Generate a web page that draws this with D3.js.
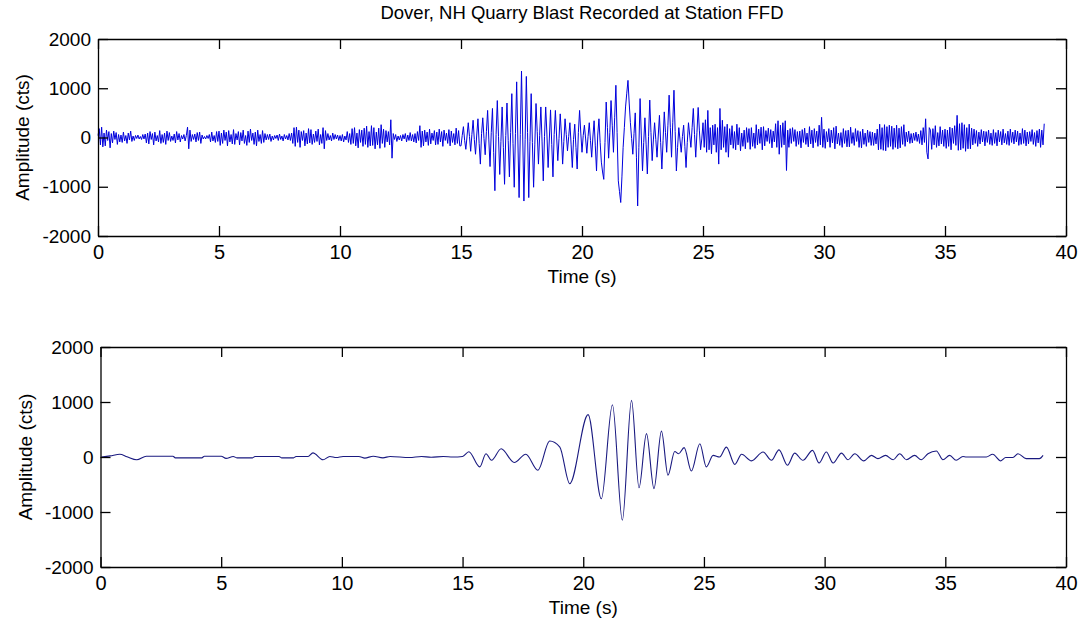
<!DOCTYPE html>
<html>
<head>
<meta charset="utf-8">
<script src="https://cdn.jsdelivr.net/npm/d3@7"></script>
<style>
  body { margin: 0; background: #fff; }
  svg { display: block; font-family: "Liberation Sans", Arial, sans-serif; }
  .tick text { fill: #000; }
</style>
</head>
<body>
<div id="chart"></div>
<script>
// raw trace, one value every 0.05 s starting at t = 0 (one row per second)
var rawDt = 0.05;
var rawAmps = [
  40, 180, -150, 210, -190, 90, -170, 150, -60, 120, -210, 80, -110, 130, -40, 100, -140, 60, -90, 50,
  -100, 110, -70, 40, -120, 90, -50, 130, -80, 30, -60, 40, -20, 50, -30, 20, -40, 60, -30, 70,
  -110, 90, -130, 120, -40, 80, -150, 110, -70, 40, -90, 140, -120, 60, -100, 90, -140, 130, -60, 100,
  -80, 30, -60, 70, -110, 120, -50, 80, -90, 40, -30, 60, -70, 40, 210, -230, 150, -80, 60, -40,
  70, -90, 100, -60, 110, -120, 50, -30, 20, -30, 40, -20, 60, -90, 110, -70, 40, -100, 120, -80,
  130, -160, 90, -120, 150, -60, 110, -170, 140, -90, 60, -130, 160, -140, 80, -50, 120, -150, 100, -70,
  150, -120, 40, -160, 130, -100, 170, -60, 90, -140, 110, -170, 150, -80, 60, -120, 140, -100, 80, -50,
  60, -40, 70, -80, 30, -50, 40, -20, 50, -60, 70, -40, 30, -70, 60, -30, 40, -50, 80, -60,
  90, -120, 200, -180, 210, -100, 150, -200, 120, -60, 140, -170, 90, -130, 180, -110, 160, -140, 70, -100,
  130, -80, 170, -150, 60, -120, 200, -230, 140, -60, 80, -50, 40, -70, 90, -40, 60, -30, 50, -60,
  40, -70, 60, -90, 30, -50, 120, -100, 80, -140, 180, -120, 200, -170, 90, -210, 160, -100, 150, -180,
  190, -140, 230, -200, 120, -170, 240, -160, 200, -230, 110, -150, 190, -220, 260, -120, 170, -200, 140, -90,
  120, -150, 360, -420, 80, -40, 60, -80, 30, -50, 40, -70, 60, -30, 80, -90, 50, -60, 100, -70,
  60, -90, 80, -110, 120, -60, 240, -200, 130, -170, 150, -90, 110, -160, 170, -130, 90, -60, 140, -150,
  110, -140, 170, -90, 120, -180, 150, -60, 90, -120, 160, -170, 130, -100, 80, -150, 190, -120, 140, -170,
  -170, 40, 220, -60, -240, 30, 300, 20, -280, 60, 350, -40, -340, 50, 380, -120, -540, 80, 400, -20,
  -350, 120, 550, -50, -590, 100, 590, -300, -1080, 60, 750, 20, -750, -80, 620, -200, -950, 40, 700, -60,
  -800, 100, 890, -120, -1010, 80, 1130, -50, -1220, 60, 1350, 30, -1290, -40, 1240, 100, -1220, -80, 890, -100,
  -1010, -150, 690, 120, -540, 40, 620, -90, -880, 20, 620, 70, -610, -30, 560, -140, -800, 60, 550, 30,
  -470, -20, 480, 50, -540, -80, 380, 60, -270, 20, 300, -150, -610, -40, 270, -200, -640, 100, 550, 90,
  -300, 40, 250, -30, -320, 20, 300, -60, -400, 10, 340, -170, -680, 50, 380, -100, -500, -700, -850, -100,
  720, 200, -420, 100, 750, 250, -300, 400, 1060, 100, -880, -1100, -1320, -800, -200, 200, 620, 900, 1160, 700,
  300, -20, -340, 80, 500, -400, -1390, -200, 790, 50, -680, -100, 400, -150, -740, 20, 760, 100, -470, -50,
  300, -40, -400, 30, 450, -100, -640, -60, 520, 100, -300, 250, 860, 200, -400, 300, 960, 120, -680, -200,
  200, -50, -300, 20, 250, -180, -610, -100, 300, 50, -200, 200, 590, 60, -400, 100, 610, 150, -250, -30,
  300, -200, 360, -300, 550, -250, 200, -330, 250, -150, 270, -300, 200, -540, 590, -250, 350, -200, 220, -300,
  270, -400, 180, -150, 240, -220, 120, -250, 270, -150, 200, -270, 90, -180, 150, -230, 200, -100, 180, -240,
  200, -180, 90, -220, 260, -150, 170, -120, 210, -250, 220, -170, 140, -80, 190, -120, 160, -210, 130, -90,
  280, -200, 340, -340, 250, -200, 300, -150, 340, -670, 150, -200, 180, -120, 200, -80, 160, -180, 120, -140,
  130, -210, 160, -100, 190, -140, 90, -190, 220, -130, 150, -210, 180, -100, 130, -180, 250, -150, 410, -200,
  170, -220, 120, -90, 180, -200, 150, -110, 200, -230, 230, -130, 90, -160, 100, -200, 180, -120, 140, -190,
  150, -190, 210, -120, 100, -160, 180, -80, 140, -200, 120, -210, 170, -140, 90, -180, 150, -100, 120, -160,
  110, -160, 90, -130, 170, -250, 270, -240, 200, -260, 260, -270, 220, -200, 250, -180, 230, -240, 190, -200,
  250, -230, 190, -210, 220, -140, 260, -180, 110, -90, 130, -120, 80, -110, 90, -60, 110, -80, 70, -120,
  140, -150, 200, -100, 380, -300, -435, 200, 150, -240, 180, -150, 240, -200, 100, -170, 220, -130, 150, -180,
  170, -220, 150, -180, 210, -250, 190, -120, 240, -160, 450, -260, 280, -250, 300, -220, 260, -280, 200, -230,
  270, -230, 190, -150, 170, -120, 140, -180, 110, -130, 160, -90, 130, -170, 120, -100, 150, -140, 90, -160,
  160, -120, 100, -170, 150, -90, 120, -150, 170, -110, 80, -140, 130, -160, 170, -100, 110, -130, 150, -90,
  130, -160, 90, -140, 180, -120, 150, -170, 110, -130, 120, -80, 160, -140, 100, -180, 140, -110, 170, -200,
  150, -150, 280
];

// filtered trace, turning points
var filtTimes = [
  0.04, 0.4, 0.8, 1.1, 1.5, 1.9, 3.0, 3.1, 4.2, 4.3,
  5.0, 5.2, 5.5, 5.65, 6.3, 6.4, 7.4, 7.5, 8.0, 8.1,
  8.6, 8.8, 9.22, 9.5, 9.77, 10.05, 10.7, 10.95, 11.3, 11.7,
  12.0, 12.8, 13.3, 13.7, 14.2, 14.6, 15.0, 15.26, 15.71, 15.97,
  16.2, 16.6, 17.14, 17.62, 18.12, 18.61, 19.03, 19.44, 20.2, 20.75,
  21.21, 21.62, 22.0, 22.31, 22.62, 22.93, 23.24, 23.51, 23.79, 23.95,
  24.18, 24.48, 24.83, 25.1, 25.38, 25.65, 25.93, 26.28, 26.56, 26.97,
  27.45, 27.8, 28.11, 28.46, 28.76, 29.1, 29.5, 29.77, 30.07, 30.35,
  30.7, 30.97, 31.25, 31.62, 31.94, 32.21, 32.52, 32.84, 33.11, 33.39,
  33.73, 34.0, 34.28, 34.63, 34.9, 35.18, 35.45, 35.73, 35.87, 36.7,
  36.96, 37.3, 37.5, 37.8, 38.01, 38.35, 38.9, 39.05
];
var filtAmps = [
  0, 20, 50, 5, -50, 15, 15, -15, -15, 15,
  15, -25, 10, -15, -15, 10, 10, -15, -15, 10,
  10, 75, -50, 10, -10, 10, 10, -20, 15, -15,
  10, -10, 10, -5, 10, 0, 10, 95, -180, 60,
  -60, 150, -100, 50, -240, 290, 180, -485, 770, -760,
  950, -1150, 1030, -560, 425, -575, 470, -330, 100, 60,
  170, -255, 240, -180, 30, 0, 180, -135, 50, -70,
  90, -60, 130, -150, 70, -60, 120, -110, 90, -110,
  70, -50, 60, -70, 30, -30, 30, -50, 60, -50,
  30, -50, 60, 110, -50, 30, -60, 10, 0, 0,
  50, -70, -10, -10, 60, -30, -30, 30
];

var titleText = "Dover, NH Quarry Blast Recorded at Station FFD";
var xTicks = [0, 5, 10, 15, 20, 25, 30, 35, 40];
var yTicks = [-2000, -1000, 0, 1000, 2000];

var W = 1083, H = 626;

var svg = d3.select("#chart").append("svg")
    .attr("width", W)
    .attr("height", H);

svg.append("rect").attr("width", W).attr("height", H).attr("fill", "#fff");

svg.append("text")
    .attr("x", 582)
    .attr("y", 19)
    .attr("text-anchor", "middle")
    .style("font-size", "18.5px")
    .text(titleText);

function drawPanel(box, pts, color, curve, lw) {
    var x = d3.scaleLinear().domain([0, 40]).range([box.left, box.right]);
    var y = d3.scaleLinear().domain([-2000, 2000]).range([box.bottom, box.top]);

    var g = svg.append("g");

    // the trace
    var line = d3.line()
        .x(function (d) { return x(d[0]); })
        .y(function (d) { return y(d[1]); })
        .curve(curve);

    g.append("path")
        .datum(pts)
        .attr("fill", "none")
        .attr("stroke", color)
        .attr("stroke-width", lw)
        .attr("stroke-linejoin", "round")
        .attr("d", line);

    // box with inward ticks on every side
    var fmt = function (d) { return String(d); };

    g.append("g")
        .attr("transform", "translate(0," + box.bottom + ")")
        .call(d3.axisBottom(x).tickValues(xTicks).tickSizeInner(-10).tickSizeOuter(0)
            .tickPadding(9).tickFormat(fmt))
        .call(function (a) { a.selectAll("text").style("font-size", "20px"); });

    g.append("g")
        .attr("transform", "translate(0," + box.top + ")")
        .call(d3.axisTop(x).tickValues(xTicks).tickSizeInner(-10).tickSizeOuter(0)
            .tickFormat(""));

    g.append("g")
        .attr("transform", "translate(" + box.left + ",0)")
        .call(d3.axisLeft(y).tickValues(yTicks).tickSizeInner(-10).tickSizeOuter(0)
            .tickPadding(7).tickFormat(fmt))
        .call(function (a) { a.selectAll("text").style("font-size", "19px"); });

    g.append("g")
        .attr("transform", "translate(" + box.right + ",0)")
        .call(d3.axisRight(y).tickValues(yTicks).tickSizeInner(-10).tickSizeOuter(0)
            .tickFormat(""));

    g.selectAll(".domain").attr("stroke", "#000").attr("stroke-width", 1.3);
    g.selectAll(".tick line").attr("stroke", "#000").attr("stroke-width", 1.3);

    g.append("text")
        .attr("x", (box.left + box.right) / 2)
        .attr("y", box.bottom + 47)
        .attr("text-anchor", "middle")
        .style("font-size", "19px")
        .text("Time (s)");

    g.append("text")
        .attr("transform", "translate(" + (box.left - 69) + "," + ((box.top + box.bottom) / 2) + ") rotate(-90)")
        .attr("text-anchor", "middle")
        .style("font-size", "19px")
        .text("Amplitude (cts)");
}

var rawPts = rawAmps.map(function (v, i) { return [i * rawDt, v]; });
var filtPts = filtTimes.map(function (t, i) { return [t, filtAmps[i]]; });

drawPanel({left: 98, right: 1066, top: 39, bottom: 236}, rawPts, "#0000dd", d3.curveLinear, 1);
drawPanel({left: 100.5, right: 1066, top: 347, bottom: 567}, filtPts, "#1a1a80", d3.curveMonotoneX, 1.1);
</script>
</body>
</html>
